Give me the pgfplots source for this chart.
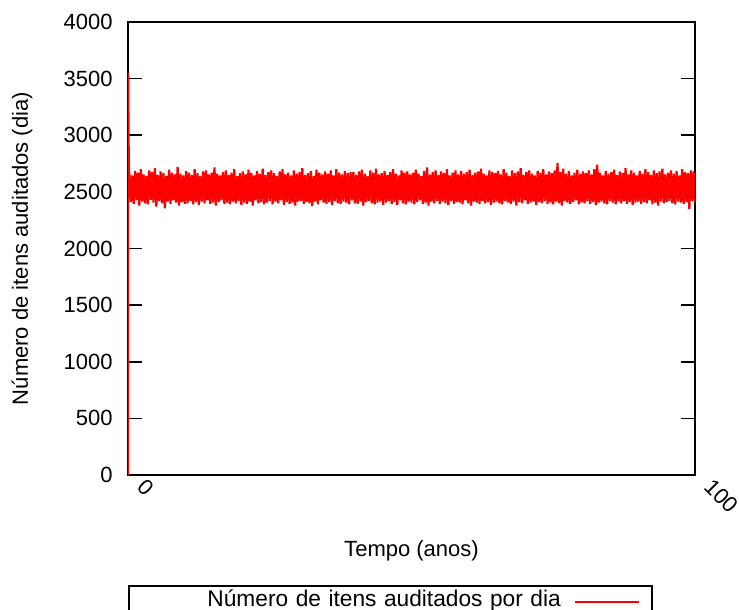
\documentclass[border=0pt]{standalone}
\usepackage{fontspec}
\setmainfont{Liberation Sans}
\usepackage{pgfplots}
\pgfplotsset{compat=1.18}
\newcommand{\chartfont}{\fontsize{11}{13}\selectfont}
\newcommand{\legfont}{\fontsize{11.35}{13}\selectfont}
\begin{document}
\begin{tikzpicture}
\useasboundingbox (-64pt,-67.5pt) rectangle (305.5pt,237.5pt);
\begin{axis}[
  at={(0,0)}, anchor=south west,
  scale only axis, width=283.5pt, height=226.5pt,
  xmin=0, xmax=100, ymin=0, ymax=4000,
  xtick={0,100}, ytick={0,500,...,4000},
  axis line style={black, line width=0.9pt},
  tick style={black, line width=0.8pt},
  major tick length=7pt,
  tick align=inside,
  /pgf/number format/assume math mode=true,
  /pgf/number format/set thousands separator={},
  font=\chartfont,
  tick label style={font=\chartfont},
  yticklabel style={anchor=east, inner sep=0pt, xshift=-7.5pt},
  xticklabel style={inner sep=0pt, xshift=6.5pt, yshift=-4pt, rotate=-45, anchor=west},
  xlabel={Tempo (anos)},
  ylabel={Número de itens auditados (dia)},
  xlabel style={at={(axis description cs:0.5,-0.1678)}, anchor=center, font=\chartfont},
  ylabel style={at={(axis description cs:-0.187,0.5)}, anchor=center, rotate=0, font=\chartfont},
  legend plot pos=right,
  legend style={at={(axis description cs:0,-0.2428)}, anchor=north west,
    draw=black, line width=0.8pt, inner xsep=0pt, inner ysep=3pt,
    font=\legfont, column sep=6.5pt,
    nodes={inner sep=0pt, text width=216pt, align=right, text height=7.6pt, text depth=2.6pt}},
  legend cell align=right,
  legend image code/.code={\draw[#1, line width=1.1pt] (0pt,0pt) -- (32pt,0pt); \path (38pt,0pt);},
]
\addplot[red, line width=1.1pt, line join=bevel] coordinates {
(0,0)(0.03,3550)(0.1,2950)(0.2,2620)
(0.25,2660)(0.5,2410)(0.75,2645)(1,2395)(1.25,2685)(1.5,2425)(1.75,2670)(2,2380)(2.25,2700)(2.5,2415)(2.75,2655)(3,2400)(3.25,2640)(3.5,2390)(3.75,2690)(4,2430)(4.25,2675)(4.5,2405)(4.75,2710)(5,2370)
(5.25,2650)(5.5,2420)(5.75,2680)(6,2400)(6.25,2665)(6.5,2355)(6.75,2640)(7,2415)(7.25,2695)(7.5,2395)(7.75,2670)(8,2425)(8.25,2655)(8.5,2405)(8.75,2720)(9,2380)(9.25,2660)(9.5,2410)(9.75,2645)(10,2395)
(10.25,2685)(10.5,2400)(10.75,2670)(11,2420)(11.25,2650)(11.5,2390)(11.75,2700)(12,2410)(12.25,2665)(12.5,2385)(12.75,2640)(13,2415)(13.25,2680)(13.5,2400)(13.75,2690)(14,2425)(14.25,2655)(14.5,2395)(14.75,2670)(15,2405)
(15.25,2715)(15.5,2380)(15.75,2660)(16,2410)(16.25,2645)(16.5,2425)(16.75,2675)(17,2395)(17.25,2690)(17.5,2405)(17.75,2650)(18,2390)(18.25,2670)(18.5,2415)(18.75,2700)(19,2400)(19.25,2640)(19.5,2420)(19.75,2665)(20,2385)
(20.25,2680)(20.5,2405)(20.75,2655)(21,2395)(21.25,2695)(21.5,2415)(21.75,2670)(22,2380)(22.25,2645)(22.5,2425)(22.75,2685)(23,2400)(23.25,2660)(23.5,2410)(23.75,2705)(24,2390)(24.25,2650)(24.5,2405)(24.75,2675)(25,2420)
(25.25,2690)(25.5,2390)(25.75,2665)(26,2415)(26.25,2640)(26.5,2400)(26.75,2680)(27,2425)(27.25,2700)(27.5,2385)(27.75,2655)(28,2410)(28.25,2670)(28.5,2395)(28.75,2645)(29,2405)(29.25,2690)(29.5,2380)(29.75,2660)(30,2415)
(30.25,2675)(30.5,2420)(30.75,2710)(31,2395)(31.25,2650)(31.5,2410)(31.75,2665)(32,2400)(32.25,2685)(32.5,2375)(32.75,2640)(33,2415)(33.25,2695)(33.5,2390)(33.75,2670)(34,2425)(34.25,2655)(34.5,2405)(34.75,2680)(35,2395)
(35.25,2660)(35.5,2410)(35.75,2690)(36,2385)(36.25,2645)(36.5,2420)(36.75,2700)(37,2400)(37.25,2670)(37.5,2395)(37.75,2655)(38,2415)(38.25,2685)(38.5,2405)(38.75,2665)(39,2390)(39.25,2675)(39.5,2425)(39.75,2675)(40,2400)
(40.25,2650)(40.5,2395)(40.75,2680)(41,2415)(41.25,2695)(41.5,2380)(41.75,2660)(42,2410)(42.25,2640)(42.5,2420)(42.75,2690)(43,2400)(43.25,2670)(43.5,2390)(43.75,2705)(44,2405)(44.25,2655)(44.5,2415)(44.75,2665)(45,2385)
(45.25,2685)(45.5,2405)(45.75,2650)(46,2420)(46.25,2675)(46.5,2395)(46.75,2700)(47,2410)(47.25,2660)(47.5,2385)(47.75,2645)(48,2425)(48.25,2690)(48.5,2400)(48.75,2670)(49,2390)(49.25,2680)(49.5,2415)(49.75,2655)(50,2405)
(50.25,2670)(50.5,2390)(50.75,2695)(51,2410)(51.25,2660)(51.5,2425)(51.75,2640)(52,2395)(52.25,2685)(52.5,2405)(52.75,2715)(53,2380)(53.25,2655)(53.5,2415)(53.75,2675)(54,2400)(54.25,2690)(54.5,2420)(54.75,2650)(55,2395)
(55.25,2680)(55.5,2415)(55.75,2665)(56,2400)(56.25,2700)(56.5,2385)(56.75,2645)(57,2420)(57.25,2670)(57.5,2395)(57.75,2690)(58,2410)(58.25,2655)(58.5,2405)(58.75,2685)(59,2390)(59.25,2660)(59.5,2425)(59.75,2675)(60,2400)
(60.25,2695)(60.5,2380)(60.75,2650)(61,2415)(61.25,2670)(61.5,2405)(61.75,2680)(62,2395)(62.25,2705)(62.5,2420)(62.75,2660)(63,2400)(63.25,2645)(63.5,2410)(63.75,2690)(64,2385)(64.25,2675)(64.5,2405)(64.75,2665)(65,2415)
(65.25,2685)(65.5,2400)(65.75,2655)(66,2390)(66.25,2700)(66.5,2420)(66.75,2670)(67,2405)(67.25,2640)(67.5,2395)(67.75,2690)(68,2415)(68.25,2665)(68.5,2380)(68.75,2680)(69,2410)(69.25,2710)(69.5,2400)(69.75,2650)(70,2425)
(70.25,2675)(70.5,2395)(70.75,2690)(71,2405)(71.25,2660)(71.5,2415)(71.75,2645)(72,2385)(72.25,2685)(72.5,2410)(72.75,2670)(73,2400)(73.25,2700)(73.5,2420)(73.75,2655)(74,2395)(74.25,2680)(74.5,2405)(74.75,2665)(75,2390)
(75.25,2690)(75.5,2415)(75.75,2755)(76,2400)(76.25,2675)(76.5,2380)(76.75,2705)(77,2420)(77.25,2660)(77.5,2405)(77.75,2685)(78,2395)(78.25,2645)(78.5,2410)(78.75,2670)(79,2425)(79.25,2695)(79.5,2390)(79.75,2660)(80,2405)
(80.25,2680)(80.5,2400)(80.75,2665)(81,2420)(81.25,2690)(81.5,2395)(81.75,2655)(82,2410)(82.25,2700)(82.5,2385)(82.75,2740)(83,2405)(83.25,2670)(83.5,2415)(83.75,2645)(84,2400)(84.25,2685)(84.5,2390)(84.75,2660)(85,2420)
(85.25,2675)(85.5,2405)(85.75,2695)(86,2390)(86.25,2650)(86.5,2415)(86.75,2680)(87,2400)(87.25,2665)(87.5,2420)(87.75,2710)(88,2395)(88.25,2655)(88.5,2410)(88.75,2690)(89,2385)(89.25,2670)(89.5,2405)(89.75,2645)(90,2415)
(90.25,2685)(90.5,2395)(90.75,2660)(91,2410)(91.25,2700)(91.5,2400)(91.75,2675)(92,2425)(92.25,2650)(92.5,2390)(92.75,2690)(93,2405)(93.25,2665)(93.5,2380)(93.75,2680)(94,2415)(94.25,2705)(94.5,2400)(94.75,2655)(95,2410)
(95.25,2670)(95.5,2420)(95.75,2690)(96,2400)(96.25,2660)(96.5,2390)(96.75,2685)(97,2415)(97.25,2645)(97.5,2405)(97.75,2700)(98,2395)(98.25,2675)(98.5,2410)(98.75,2665)(99,2350)(99.25,2690)(99.5,2420)(99.75,2680)(100,2405)
};
\addlegendentry{Número de itens auditados por dia}
\end{axis}
\end{tikzpicture}
\end{document}
